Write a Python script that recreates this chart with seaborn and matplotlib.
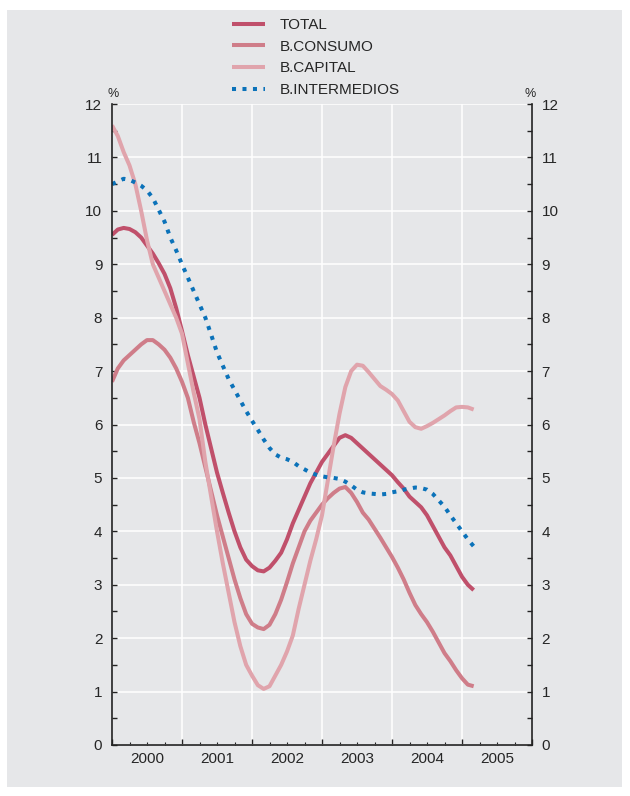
import seaborn as sns
import matplotlib.pyplot as plt
import matplotlib.ticker as mticker
from matplotlib.patches import Rectangle
import numpy as np
import pandas as pd

sns.set_theme(style="ticks")
plt.rcParams['font.family'] = ['Liberation Sans', 'DejaVu Sans']

# monthly data, Jan 2000 - Mar 2005 (%)
total = [9.55, 9.65, 9.68, 9.66, 9.6, 9.5, 9.35, 9.2, 9.02, 8.82, 8.55, 8.18,
         7.75, 7.3, 6.9, 6.5, 6.0, 5.55, 5.1, 4.72, 4.35, 4.0, 3.7, 3.47,
         3.35, 3.27, 3.25, 3.32, 3.45, 3.6, 3.85, 4.15, 4.4, 4.65, 4.9, 5.1,
         5.3, 5.45, 5.6, 5.75, 5.8, 5.75, 5.65, 5.55, 5.45, 5.35, 5.25, 5.15,
         5.05, 4.92, 4.8, 4.65, 4.55, 4.45, 4.3, 4.1, 3.9, 3.7, 3.55, 3.35,
         3.15, 3.0, 2.9]
consumo = [6.8, 7.05, 7.2, 7.3, 7.4, 7.5, 7.58, 7.58, 7.5, 7.4, 7.25, 7.05,
           6.8, 6.5, 6.05, 5.65, 5.2, 4.75, 4.3, 3.9, 3.5, 3.1, 2.75, 2.45,
           2.27, 2.2, 2.17, 2.25, 2.45, 2.72, 3.05, 3.4, 3.7, 4.0, 4.2, 4.35,
           4.5, 4.62, 4.72, 4.8, 4.83, 4.72, 4.55, 4.35, 4.22, 4.05, 3.88, 3.7,
           3.52, 3.32, 3.1, 2.85, 2.62, 2.45, 2.3, 2.12, 1.92, 1.72, 1.57, 1.4,
           1.25, 1.13, 1.1]
capital = [11.6, 11.4, 11.1, 10.85, 10.5, 10.0, 9.45, 9.0, 8.75, 8.5, 8.25, 8.0,
           7.7, 7.15, 6.6, 6.1, 5.3, 4.65, 4.0, 3.4, 2.85, 2.3, 1.85, 1.5,
           1.3, 1.12, 1.05, 1.1, 1.3, 1.5, 1.75, 2.05, 2.55, 3.0, 3.45, 3.85,
           4.3, 4.95, 5.6, 6.2, 6.7, 7.0, 7.12, 7.1, 6.98, 6.85, 6.72, 6.65,
           6.57, 6.45, 6.25, 6.05, 5.95, 5.92, 5.97, 6.03, 6.1, 6.17, 6.25, 6.32,
           6.33, 6.32, 6.28]
intermedios = [10.5, 10.55, 10.6, 10.58, 10.53, 10.47, 10.38, 10.24, 10.02, 9.8, 9.5, 9.26,
               9.0, 8.75, 8.5, 8.25, 8.0, 7.68, 7.35, 7.1, 6.85, 6.65, 6.45, 6.25,
               6.07, 5.9, 5.72, 5.56, 5.44, 5.38, 5.35, 5.3, 5.22, 5.16, 5.1, 5.06,
               5.03, 5.01, 5.0, 4.98, 4.93, 4.86, 4.78, 4.73, 4.71, 4.7, 4.69, 4.7,
               4.73, 4.75, 4.78, 4.8, 4.82, 4.81, 4.78, 4.7, 4.58, 4.46, 4.3, 4.15,
               4.0, 3.85, 3.72]
years = [2000, 2001, 2002, 2003, 2004, 2005]

fecha = 2000 + np.arange(len(total)) / 12
df = pd.DataFrame({"fecha": fecha, "TOTAL": total, "B.CONSUMO": consumo,
                   "B.CAPITAL": capital, "B.INTERMEDIOS": intermedios})

gris = "#e6e7e9"
estilos = {
    "TOTAL": dict(color="#c0506b", linestyle="-"),
    "B.CONSUMO": dict(color="#cf7d89", linestyle="-"),
    "B.CAPITAL": dict(color="#e0a4ac", linestyle="-"),
    "B.INTERMEDIOS": dict(color="#0b72b9", linestyle=(0, (1, 1.6))),
}

fig = plt.figure(figsize=(6.3, 7.96), dpi=100)
fig.patch.set_facecolor("white")
fig.patches.append(Rectangle((7/630, 1-787/796), 615/630, 777/796,
                             transform=fig.transFigure, facecolor=gris,
                             edgecolor="none", zorder=-10))
ax = fig.add_axes([112/630, 1-745/796, 420/630, 641/796])
ax.set_facecolor(gris)

for nombre, st in estilos.items():
    sns.lineplot(data=df, x="fecha", y=nombre, ax=ax, label=nombre,
                 linewidth=2.9, solid_capstyle="butt", **st)

ax.set_xlim(2000, 2006)
ax.set_ylim(0, 12)
ax.set_xlabel(""); ax.set_ylabel("")

# ejes y
ax.yaxis.set_major_locator(mticker.MultipleLocator(1))
ax.yaxis.set_minor_locator(mticker.MultipleLocator(0.5))
ax.tick_params(axis="y", which="both", direction="in", left=True, right=True,
               labelleft=True, labelright=True, labelsize=11, pad=7,
               length=3.6, width=1, color="#222222")
# eje x
ax.xaxis.set_major_locator(mticker.FixedLocator([2000, 2001, 2002, 2003, 2004, 2005, 2006]))
ax.xaxis.set_major_formatter(mticker.NullFormatter())
ax.xaxis.set_minor_locator(mticker.FixedLocator([y + q for y in years for q in (0.25, 0.5, 0.75)]))
ax.xaxis.set_minor_formatter(mticker.FuncFormatter(
    lambda v, p: str(int(v)) if abs(v - int(v) - 0.5) < 0.01 else ""))
ax.tick_params(axis="x", which="major", direction="in", length=4.5, width=1, color="#222222")
ax.tick_params(axis="x", which="minor", direction="in", length=2.3, width=0.8,
               color="#222222", labelsize=11, pad=5)

ax.grid(True, axis="both", which="major", color="white", linewidth=1.1)
ax.set_axisbelow(True)
for s in ["left", "right", "bottom"]:
    ax.spines[s].set_color("#222222")
    ax.spines[s].set_linewidth(1.2)
ax.spines["top"].set_visible(False)

ax.annotate("%", xy=(0, 1), xycoords="axes fraction", xytext=(-3, 3),
            textcoords="offset points", ha="left", va="bottom", fontsize=9)
ax.annotate("%", xy=(1, 1), xycoords="axes fraction", xytext=(3, 3),
            textcoords="offset points", ha="right", va="bottom", fontsize=9)

ax.legend_.remove()
h, l = ax.get_legend_handles_labels()
fig.legend(h, l, loc="upper left", bbox_to_anchor=(232/630, 1-18/796),
           frameon=False, fontsize=11, handlelength=2.15, handletextpad=1.0,
           labelspacing=0.5, borderpad=0, borderaxespad=0)

plt.savefig("out.png", dpi=100, facecolor=fig.get_facecolor())
